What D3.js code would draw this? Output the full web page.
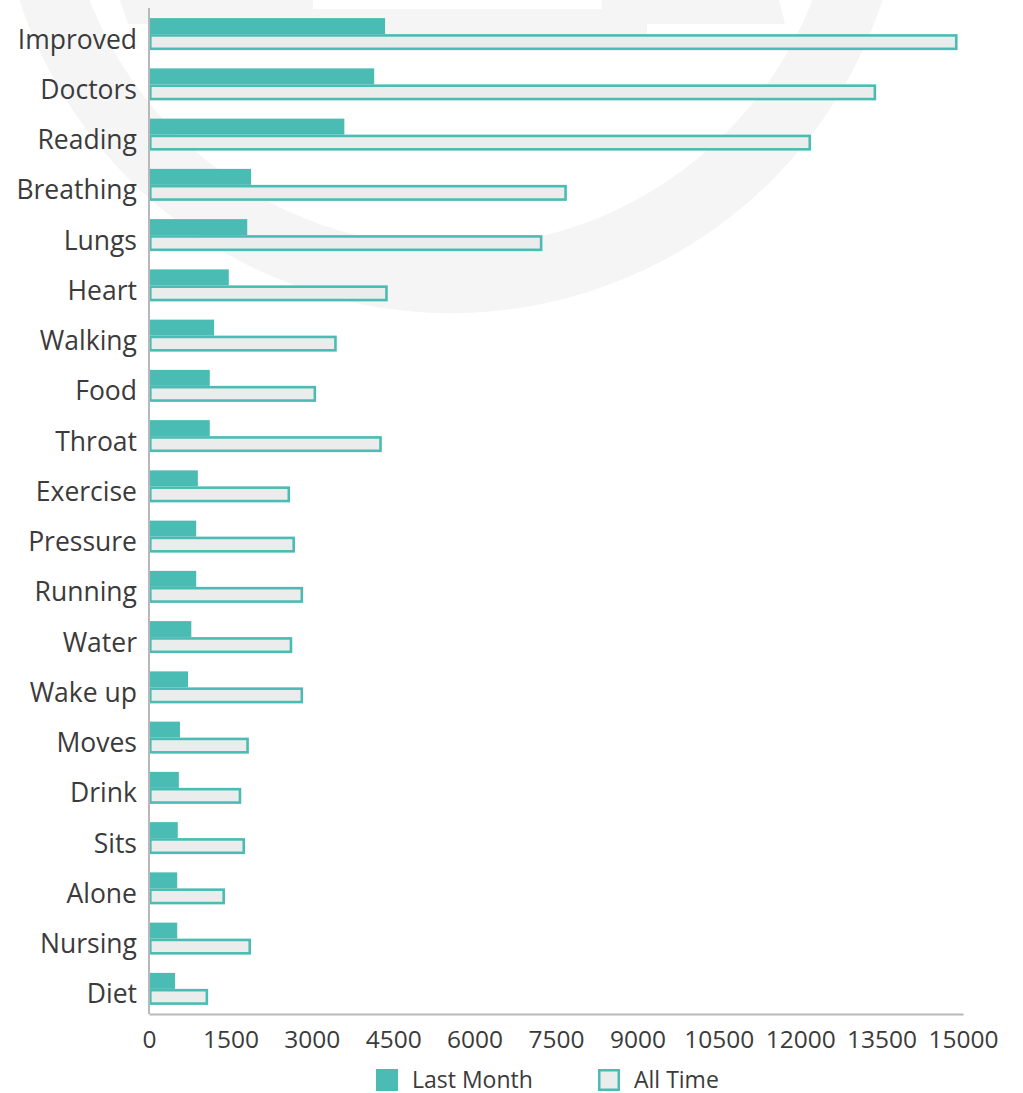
<!DOCTYPE html>
<html>
<head>
<meta charset="utf-8">
<script src="https://cdn.jsdelivr.net/npm/d3@7/dist/d3.min.js"></script>
<style>
  html, body { margin: 0; padding: 0; background: #ffffff; }
  svg { display: block; font-family: "Open Sans", "Noto Sans", sans-serif; }
</style>
</head>
<body>
<svg id="chart" width="1023" height="1093"></svg>
<script>
// Topic categories, top to bottom
const categories = ["Improved", "Doctors", "Reading", "Breathing", "Lungs", "Heart",
  "Walking", "Food", "Throat", "Exercise", "Pressure", "Running", "Water",
  "Wake up", "Moves", "Drink", "Sits", "Alone", "Nursing", "Diet"];

// Counts per category
const lastMonth = [4350, 4150, 3600, 1880, 1810, 1470, 1200, 1120, 1120, 900,
  870, 870, 780, 720, 570, 550, 530, 520, 520, 480];
const allTime = [14900, 13400, 12200, 7700, 7250, 4400, 3460, 3080, 4290, 2600,
  2690, 2840, 2640, 2840, 1840, 1700, 1770, 1400, 1880, 1090];

const xTicks = [0, 1500, 3000, 4500, 6000, 7500, 9000, 10500, 12000, 13500, 15000];
const seriesNames = ["Last Month", "All Time"];

const teal = "#4abcb3";
const lightFill = "#ebedec";
const textColor = "#3b3b3b";
const axisColor = "#b8b8b8";

const svg = d3.select("#chart");

// Faint ring emblem behind the plot
const bg = svg.append("g").attr("fill", "#f5f5f5");
const cx = 451, cy = -141, rOuter = 454, rInner = 388;
bg.append("path")
  .attr("fill-rule", "evenodd")
  .attr("d",
    `M${cx - rOuter},${cy}a${rOuter},${rOuter} 0 1,0 ${2 * rOuter},0a${rOuter},${rOuter} 0 1,0 ${-2 * rOuter},0Z` +
    `M${cx - rInner},${cy}a${rInner},${rInner} 0 1,0 ${2 * rInner},0a${rInner},${rInner} 0 1,0 ${-2 * rInner},0Z`);
bg.append("path")
  .attr("d", "M120,0 L313,0 L313,9 L602,9 L602,0 L779,0 L785,24 L647,24 L647,34 L313,34 L313,24 L128,24 Z");

const margin = { left: 149, right: 963, top: 9, bottom: 1014 };

const x = d3.scaleLinear().domain([0, 15000]).range([margin.left, margin.right]);
const y = d3.scaleBand().domain(categories).range([margin.top, margin.bottom]);
const barH = 16;

const rows = categories.map((c, i) => ({ c, lm: lastMonth[i], at: allTime[i] }));

const g = svg.append("g");
// Last Month bars
g.selectAll("rect.lm").data(rows).join("rect")
  .attr("class", "lm")
  .attr("x", x(0))
  .attr("y", d => y(d.c) + y.bandwidth() / 2 - barH)
  .attr("width", d => x(d.lm) - x(0))
  .attr("height", barH)
  .attr("fill", teal);

// All Time bars (outlined)
const sw = 2.6;
g.selectAll("rect.at").data(rows).join("rect")
  .attr("class", "at")
  .attr("x", x(0) + sw / 2)
  .attr("y", d => y(d.c) + y.bandwidth() / 2 + sw / 2)
  .attr("width", d => x(d.at) - x(0) - sw)
  .attr("height", barH - sw)
  .attr("fill", lightFill)
  .attr("stroke", teal)
  .attr("stroke-width", sw);

// Axes
const yAxis = svg.append("g")
  .attr("transform", `translate(${margin.left},0)`)
  .call(d3.axisLeft(y).tickSize(0).tickPadding(12));
yAxis.select(".domain").attr("stroke", axisColor).attr("stroke-width", 2)
  .attr("d", `M0,${margin.top - 1}V${margin.bottom}`);
yAxis.selectAll("text")
  .attr("fill", textColor)
  .attr("font-size", 26.5)
  .attr("dy", "0.55em")
  .attr("font-family", "'Open Sans', sans-serif");

const xAxis = svg.append("g")
  .attr("transform", `translate(0,${margin.bottom})`)
  .call(d3.axisBottom(x).tickValues(xTicks).tickFormat(d3.format("d")).tickSize(0).tickPadding(17));
xAxis.select(".domain").attr("stroke", axisColor).attr("stroke-width", 2);
xAxis.selectAll("text")
  .attr("fill", textColor)
  .attr("font-size", 24.5)
  .attr("font-family", "'Open Sans', sans-serif");

// Legend
const legend = svg.append("g").attr("transform", "translate(0,1080)");
const legendItems = [
  { name: seriesNames[0], x: 376, fill: teal, stroke: "none" },
  { name: seriesNames[1], x: 598, fill: lightFill, stroke: teal }
];
const li = legend.selectAll("g").data(legendItems).join("g")
  .attr("transform", d => `translate(${d.x},0)`);
li.append("rect")
  .attr("x", d => d.stroke === "none" ? 0 : 1.25)
  .attr("y", d => d.stroke === "none" ? -11 : -9.75)
  .attr("width", d => d.stroke === "none" ? 22 : 19.5)
  .attr("height", d => d.stroke === "none" ? 22 : 19.5)
  .attr("fill", d => d.fill)
  .attr("stroke", d => d.stroke)
  .attr("stroke-width", 2.5);
li.append("text")
  .attr("x", 36)
  .attr("y", 7.5)
  .attr("fill", textColor)
  .attr("font-size", 23)
  .text(d => d.name);
</script>
</body>
</html>
